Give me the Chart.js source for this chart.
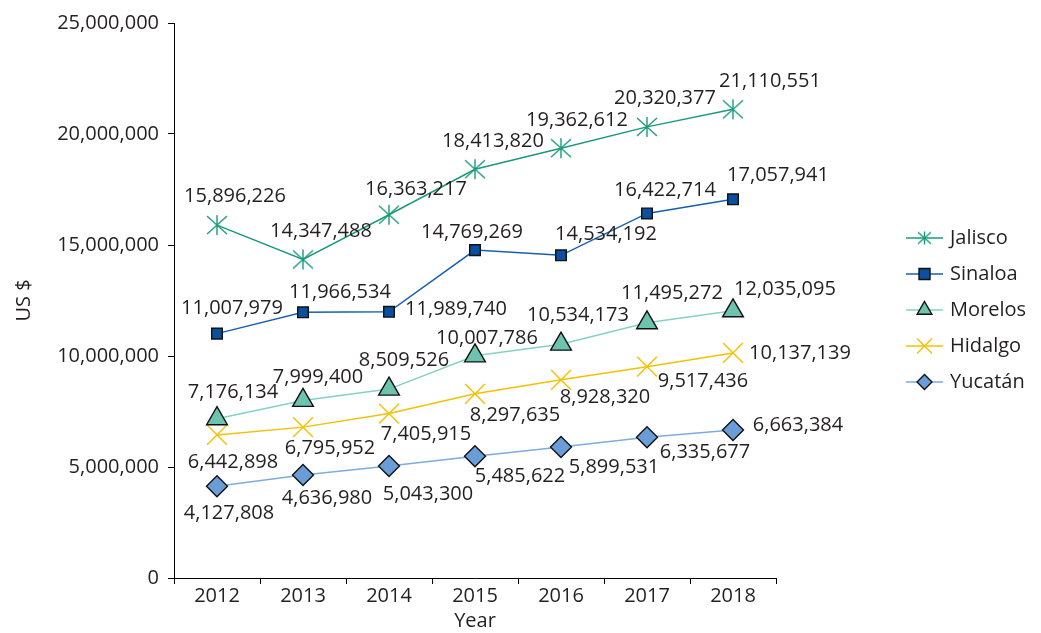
<!DOCTYPE html>
<html>
<head>
<meta charset="utf-8">
<title>US $ by state, 2012-2018</title>
<script src="https://cdn.jsdelivr.net/npm/chart.js@4/dist/chart.umd.min.js"></script>
<style>
  html, body { margin: 0; padding: 0; background: #fff; }
  #wrap { width: 1041px; height: 633px; position: relative; }
</style>
</head>
<body>
<div id="wrap"><canvas id="stateChart"></canvas></div>
<script>
// data
const years = ['2012', '2013', '2014', '2015', '2016', '2017', '2018'];
const jalisco = [15896226, 14347488, 16363217, 18413820, 19362612, 20320377, 21110551];
const sinaloa = [11007979, 11966534, 11989740, 14769269, 14534192, 16422714, 17057941];
const morelos = [7176134, 7999400, 8509526, 10007786, 10534173, 11495272, 12035095];
const hidalgo = [6442898, 6795952, 7405915, 8297635, 8928320, 9517436, 10137139];
const yucatan = [4127808, 4636980, 5043300, 5485622, 5899531, 6335677, 6663384];
const yTicks = [0, 5000000, 10000000, 15000000, 20000000, 25000000];

// where each value label sits relative to its point (dx, dy)
const jaliscoLabelPos = [[18, -29], [18, -28], [27, -25], [18, -28], [16, -28], [18, -29], [37, -28]];
const sinaloaLabelPos = [[15, -25], [37, -20], [67, -3], [-3, -18], [45, -21], [18, -23], [45, -24]];
const morelosLabelPos = [[16, -26], [15, -23], [15, -29], [12, -18], [17, -29], [25, -30], [52, -22]];
const hidalgoLabelPos = [[16, 27], [27, 21], [37, 21], [40, 22], [44, 18], [56, 15], [67, 0]];
const yucatanLabelPos = [[12, 27], [24, 23], [39, 28], [45, 20], [53, 20], [58, 15], [65, -5]];

const FONT = "'Open Sans', 'DejaVu Sans', sans-serif";
const TEXT = '#231f20';

const fmt = v => Number(v).toLocaleString('en-US');

// Excel style asterisk: vertical bar plus an X
function makeStar(size, color) {
    const c = document.createElement('canvas');
    c.width = size; c.height = size;
    const g = c.getContext('2d');
    const m = size / 2, r = size / 2 - 1;
    g.strokeStyle = color;
    g.lineWidth = 1.4;
    g.beginPath();
    g.moveTo(m, m - r); g.lineTo(m, m + r);
    g.moveTo(m - r, m - r * 0.9); g.lineTo(m + r, m + r * 0.9);
    g.moveTo(m + r, m - r * 0.9); g.lineTo(m - r, m + r * 0.9);
    g.stroke();
    return c;
}

const colors = {
    jalisco: '#1b9a7b',
    sinaloaLine: '#1560b0', sinaloaFill: '#0b4f9e',
    morelosLine: '#84d2c3', morelosFill: '#6dc3ae',
    hidalgo: '#f5c000',
    yucatanLine: '#7eabe0', yucatanFill: '#6a9dd8'
};

const starBig = makeStar(22, colors.jalisco);
const starSmall = makeStar(15, colors.jalisco);

const seriesLabelPos = [jaliscoLabelPos, sinaloaLabelPos, morelosLabelPos, hidalgoLabelPos, yucatanLabelPos];

// value labels drawn next to every point
const valueLabels = {
    id: 'valueLabels',
    afterDatasetsDraw(chart) {
        const ctx = chart.ctx;
        ctx.save();
        ctx.font = '20px ' + FONT;
        ctx.fillStyle = TEXT;
        ctx.textAlign = 'center';
        ctx.textBaseline = 'middle';
        chart.data.datasets.forEach((ds, i) => {
            const meta = chart.getDatasetMeta(i);
            meta.data.forEach((pt, j) => {
                const off = seriesLabelPos[i][j];
                ctx.fillText(fmt(ds.data[j]), pt.x + off[0], pt.y + off[1]);
            });
        });
        ctx.restore();
    }
};

// legend with line + marker samples, like the original
function legendMarker(ctx, kind, x, y) {
    ctx.lineWidth = 1.4;
    ctx.strokeStyle = '#111';
    ctx.beginPath();
    if (kind === 'star') {
        ctx.drawImage(starSmall, x - starSmall.width / 2, y - starSmall.height / 2);
        return;
    } else if (kind === 'square') {
        ctx.fillStyle = colors.sinaloaFill;
        ctx.rect(x - 5.5, y - 5.5, 11, 11);
    } else if (kind === 'triangle') {
        const r = 8.5;
        ctx.fillStyle = colors.morelosFill;
        ctx.moveTo(x, y - r);
        ctx.lineTo(x + 0.866 * r, y + 0.5 * r);
        ctx.lineTo(x - 0.866 * r, y + 0.5 * r);
        ctx.closePath();
    } else if (kind === 'cross') {
        ctx.strokeStyle = colors.hidalgo;
        ctx.moveTo(x - 7.5, y - 7.5); ctx.lineTo(x + 7.5, y + 7.5);
        ctx.moveTo(x + 7.5, y - 7.5); ctx.lineTo(x - 7.5, y + 7.5);
        ctx.stroke();
        return;
    } else if (kind === 'diamond') {
        const r = 7.5;
        ctx.fillStyle = colors.yucatanFill;
        ctx.moveTo(x, y - r); ctx.lineTo(x + r, y); ctx.lineTo(x, y + r); ctx.lineTo(x - r, y);
        ctx.closePath();
    }
    ctx.fill();
    ctx.stroke();
}

const sideLegend = {
    id: 'sideLegend',
    afterDraw(chart) {
        const ctx = chart.ctx;
        const items = [
            { text: 'Jalisco', line: colors.jalisco, kind: 'star' },
            { text: 'Sinaloa', line: colors.sinaloaLine, kind: 'square' },
            { text: 'Morelos', line: colors.morelosLine, kind: 'triangle' },
            { text: 'Hidalgo', line: colors.hidalgo, kind: 'cross' },
            { text: 'Yucatán', line: colors.yucatanLine, kind: 'diamond' }
        ];
        ctx.save();
        items.forEach((it, i) => {
            const y = 238 + i * 36;
            ctx.strokeStyle = it.line;
            ctx.lineWidth = 1.5;
            ctx.beginPath();
            ctx.moveTo(906, y); ctx.lineTo(943, y);
            ctx.stroke();
            legendMarker(ctx, it.kind, 924.5, y);
            ctx.font = '20px ' + FONT;
            ctx.fillStyle = TEXT;
            ctx.textAlign = 'left';
            ctx.textBaseline = 'middle';
            ctx.fillText(it.text, 950, y);
        });
        ctx.restore();
    }
};

Chart.defaults.font.family = FONT;
Chart.defaults.font.size = 20;
Chart.defaults.color = TEXT;

const ctx = document.getElementById('stateChart').getContext('2d');
const stateChart = new Chart(ctx, {
    type: 'line',
    data: {
        labels: years,
        datasets: [
            {
                label: 'Jalisco', data: jalisco,
                borderColor: colors.jalisco, borderWidth: 1.5,
                pointStyle: starBig, pointRadius: 11
            },
            {
                label: 'Sinaloa', data: sinaloa,
                borderColor: colors.sinaloaLine, borderWidth: 1.5,
                pointStyle: 'rect', pointRadius: 7.5,
                pointBackgroundColor: colors.sinaloaFill, pointBorderColor: '#111', pointBorderWidth: 1.4
            },
            {
                label: 'Morelos', data: morelos,
                borderColor: colors.morelosLine, borderWidth: 1.5,
                pointStyle: 'triangle', pointRadius: 12,
                pointBackgroundColor: colors.morelosFill, pointBorderColor: '#111', pointBorderWidth: 1.4
            },
            {
                label: 'Hidalgo', data: hidalgo,
                borderColor: colors.hidalgo, borderWidth: 1.5,
                pointStyle: 'crossRot', pointRadius: 14,
                pointBorderColor: colors.hidalgo, pointBorderWidth: 1.4
            },
            {
                label: 'Yucatán', data: yucatan,
                borderColor: colors.yucatanLine, borderWidth: 1.5,
                pointStyle: 'rectRot', pointRadius: 10.5,
                pointBackgroundColor: colors.yucatanFill, pointBorderColor: '#111', pointBorderWidth: 1.4
            }
        ]
    },
    options: {
        responsive: true,
        maintainAspectRatio: false,
        animation: false,
        events: [],
        layout: { padding: { top: 23, right: 265, bottom: 0, left: 0 } },
        elements: { line: { tension: 0, fill: false } },
        plugins: {
            legend: { display: false },
            tooltip: { enabled: false }
        },
        scales: {
            x: {
                type: 'category',
                offset: true,
                grid: { offset: true, drawOnChartArea: false, tickLength: 6, color: '#000' },
                border: { color: '#000', width: 1 },
                ticks: { padding: 0, color: TEXT, font: { size: 20 } },
                title: { display: true, text: 'Year', color: TEXT, font: { size: 20 }, padding: { top: 0, bottom: 0 } },
                afterFit: scale => { scale.height = 55; }
            },
            y: {
                min: 0,
                max: 25000000,
                afterBuildTicks: scale => { scale.ticks = yTicks.map(v => ({ value: v })); },
                grid: { drawOnChartArea: false, tickLength: 6, color: '#000' },
                border: { color: '#000', width: 1 },
                ticks: { padding: 9, color: TEXT, font: { size: 20 }, callback: v => fmt(v) },
                title: { display: true, text: 'US $', color: TEXT, font: { size: 20 }, padding: { top: 12, bottom: 0 } },
                afterFit: scale => { scale.width = 174; }
            }
        }
    },
    plugins: [valueLabels, sideLegend]
});
</script>
</body>
</html>
